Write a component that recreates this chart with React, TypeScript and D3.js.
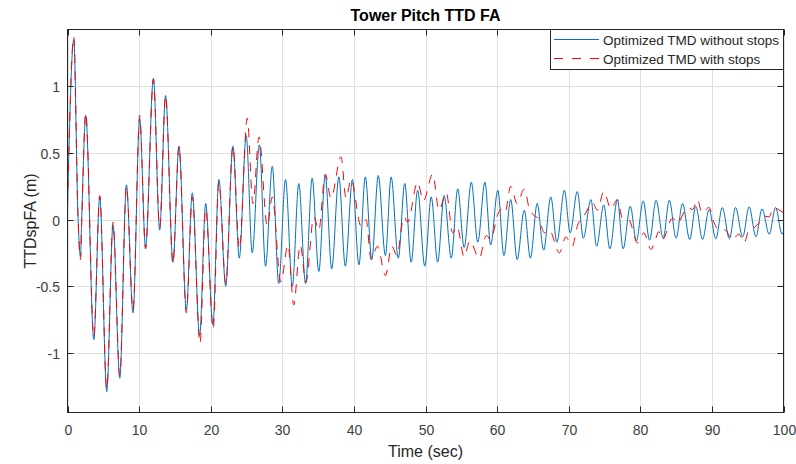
import React from "react";
import * as d3 from "d3";

// ---- Data ----
const blueTime = [
  0, 0.88, 1.45, 1.81, 1.98, 2.55, 3.67, 4.5, 5.48, 6.36, 7.3, 8.23, 9.15, 10.08, 10.9, 12.0, 12.87, 13.7, 14.73, 15.57,
  16.6, 17.43, 18.45, 19.3, 20.3, 21.14, 22.1, 23.1, 23.99, 24.96, 25.8, 26.8, 27.66, 28.6, 29.5, 30.45, 31.4, 32.3, 33.25,
  34.17, 35.1, 36.0, 36.9, 37.9, 38.8, 39.8, 40.7, 41.6, 42.5, 43.4, 44.4, 45.2, 46.2, 47.1, 48.0, 48.9, 49.9, 50.8, 51.7,
  52.6, 53.6, 54.5, 55.4, 56.4, 57.3, 58.3, 59.1, 60.1, 60.95, 61.9, 62.8, 63.8, 64.65, 65.6, 66.5, 67.5, 68.35, 69.4, 70.2,
  71.2, 72.05, 73.1, 73.9, 74.9, 75.75, 76.8, 77.6, 78.6, 79.45, 80.4, 81.3, 82.2, 83.2, 84.05, 85.0, 85.9, 86.9, 87.75,
  88.7, 89.6, 90.55, 91.45, 92.45, 93.3, 94.3, 95.2, 96.15, 97.0, 98.0, 98.9, 99.8, 100,
];
const blueValue = [
  0.1, 1.35, 0.05, -0.28, 0.0, 0.78, -0.9, 0.17, -1.29, -0.04, -1.19, 0.26, -0.7, 0.76, -0.21, 1.06, -0.08, 0.93, -0.32, 0.55,
  -0.68, 0.2, -0.87, 0.12, -0.79, 0.3, -0.5, 0.55, -0.29, 0.63, -0.25, 0.56, -0.35, 0.4, -0.48, 0.3, -0.5, 0.27, -0.48,
  0.31, -0.39, 0.33, -0.37, 0.32, -0.35, 0.3, -0.34, 0.32, -0.3, 0.33, -0.27, 0.32, -0.29, 0.27, -0.32, 0.22, -0.35, 0.17, -0.32,
  0.18, -0.29, 0.23, -0.21, 0.28, -0.17, 0.28, -0.19, 0.22, -0.27, 0.15, -0.3, 0.07, -0.29, 0.12, -0.23, 0.17, -0.17, 0.22, -0.1,
  0.21, -0.14, 0.15, -0.2, 0.11, -0.22, 0.15, -0.22, 0.1, -0.16, 0.14, -0.155, 0.145, -0.14, 0.145, -0.14, 0.12, -0.15, 0.1,
  -0.15, 0.075, -0.145, 0.09, -0.145, 0.09, -0.13, 0.095, -0.13, 0.08, -0.11, 0.09, -0.11, -0.09,
];

const redTime = [
  0, 0.88, 1.45, 1.81, 1.98, 2.55, 3.67, 4.5, 5.48, 6.36, 7.3, 8.23, 9.15, 10.08, 10.9, 12.0, 12.87, 13.7, 14.73, 15.57,
  16.6, 17.43, 18.5, 19.3, 20.35, 21.14, 22.1, 23.1, 24.0, 25.1, 25.9, 26.75, 27.9, 28.6, 29.8, 30.8, 31.6, 32.5, 33.3,
  34.4, 35.1, 36.0, 36.8, 38.2, 38.9, 39.6, 41.0, 41.7, 42.4, 43.3, 44.4, 45.3, 46.0, 47.0, 47.5, 48.9, 49.7, 51.0, 51.9,
  52.9, 53.8, 54.4, 55.4, 56.2, 57.5, 58.5, 59.1, 60.1, 60.6, 61.1, 61.9, 62.8, 63.8, 64.5, 65.2, 65.9, 66.6, 67.3, 68.7,
  69.6, 70.5, 71.2, 72.4, 73.3, 74.0, 74.9, 75.9, 76.8, 77.5, 78.4, 79.6, 80.5, 81.5, 82.1, 82.6, 83.1, 84.5, 85.2, 86.6,
  87.3, 88.0, 88.6, 89.6, 90.3, 91.0, 91.9, 92.8, 93.8, 94.5, 95.2, 95.9, 96.6, 97.3, 98.0, 98.6, 99.3, 100,
];
const redValue = [
  0.1, 1.37, 0.05, -0.3, -0.02, 0.8, -0.88, 0.18, -1.27, -0.02, -1.17, 0.25, -0.68, 0.78, -0.22, 1.05, -0.06, 0.93, -0.33, 0.55,
  -0.7, 0.17, -0.93, 0.08, -0.82, 0.28, -0.48, 0.55, -0.22, 0.76, 0.12, 0.62, -0.05, 0.17, -0.47, -0.19, -0.64, -0.19, -0.47,
  0.02, -0.08, 0.34, 0.16, 0.47, 0.16, 0.3, -0.05, 0.0, -0.3, -0.2, -0.42, -0.2, -0.27, 0.02, -0.02, 0.28, 0.14, 0.34, 0.07,
  0.2, -0.1, -0.05, -0.28, -0.16, -0.29, -0.12, -0.15, 0.04, 0.075, 0.05, 0.25, 0.12, 0.23, 0.08, 0.03, 0.0, -0.1, -0.08, -0.25,
  -0.13, -0.2, -0.05, 0.05, 0.13, 0.07, 0.21, 0.08, 0.15, 0.01, 0.0, -0.175, -0.1, -0.225, -0.15, -0.09, -0.15, 0.01, -0.025, 0.09,
  0.075, 0.15, 0.05, 0.09, -0.025, -0.075, -0.08, -0.15, -0.11, -0.175, -0.075, -0.06, -0.025, 0.025, 0.02, 0.09, 0.075, 0.05,
];

const xTicks = [0, 10, 20, 30, 40, 50, 60, 70, 80, 90, 100];
const yTicks = [-1, -0.5, 0, 0.5, 1];
const seriesNames = ["Optimized TMD without stops", "Optimized TMD with stops"];

const W = 796;
const H = 464;
const L = 67.5, R = 783.5, T = 29.5, B = 412.5;
const FONT = "'Liberation Sans', Arial, Helvetica, sans-serif";
const AX = "#262626";

export default function App() {
  const x = d3.scaleLinear().domain([0, 100]).range([L, R]);
  const y = d3.scaleLinear().domain([-1.447, 1.425]).range([B, T]);
  const line = d3
    .line<[number, number]>()
    .x((d) => x(d[0]))
    .y((d) => y(d[1]))
    .curve(d3.curveMonotoneX);
  const blue: [number, number][] = blueTime.map((t, i) => [t, blueValue[i]]);
  const red: [number, number][] = redTime.map((t, i) => [t, redValue[i]]);
  const tick = 6;

  return (
    <svg
      width={W}
      height={H}
      style={{ position: "absolute", left: 0, top: 0, display: "block", background: "#fff" }}
      fontFamily={FONT}
    >
      <rect x={0} y={0} width={W} height={H} fill="#fff" />
      <defs>
        <clipPath id="plotclip">
          <rect x={L} y={T} width={R - L} height={B - T} />
        </clipPath>
      </defs>
      {/* grid */}
      {xTicks.map((t) => (
        <line key={"gx" + t} x1={Math.round(x(t)) + 0.5} x2={Math.round(x(t)) + 0.5} y1={T} y2={B} stroke="#dfdfdf" strokeWidth={1} />
      ))}
      {yTicks.map((t) => (
        <line key={"gy" + t} x1={L} x2={R} y1={Math.round(y(t)) + 0.5} y2={Math.round(y(t)) + 0.5} stroke="#dfdfdf" strokeWidth={1} />
      ))}
      {/* data */}
      <g clipPath="url(#plotclip)">
        <path d={line(blue) || ""} fill="none" stroke="#0072BD" strokeWidth={1} />
        <path d={line(red) || ""} fill="none" stroke="#FF0000" strokeWidth={1} strokeDasharray="9,8" />
      </g>
      {/* box */}
      <rect x={L} y={T} width={R - L} height={B - T} fill="none" stroke={AX} strokeWidth={1} />
      {/* ticks */}
      {xTicks.map((t) => {
        const px = Math.round(x(t)) + 0.5;
        return (
          <g key={"tx" + t}>
            <line x1={px} x2={px} y1={B} y2={B - tick} stroke={AX} />
            <line x1={px} x2={px} y1={T} y2={T + tick} stroke={AX} />
            <text x={px} y={435} textAnchor="middle" fontSize={14} fill="#404040">
              {t}
            </text>
          </g>
        );
      })}
      {yTicks.map((t) => {
        const py = Math.round(y(t)) + 0.5;
        return (
          <g key={"ty" + t}>
            <line x1={L} x2={L + tick} y1={py} y2={py} stroke={AX} />
            <line x1={R} x2={R - tick} y1={py} y2={py} stroke={AX} />
            <text x={60} y={py + 5} textAnchor="end" fontSize={14} fill="#404040">
              {String(t)}
            </text>
          </g>
        );
      })}
      {/* labels */}
      <text x={(L + R) / 2} y={20.5} textAnchor="middle" fontSize={16} fontWeight="bold" fill="#000">
        Tower Pitch TTD FA
      </text>
      <text x={(L + R) / 2} y={457} textAnchor="middle" fontSize={16} fill="#262626">
        Time (sec)
      </text>
      <text transform={`translate(36, ${(T + B) / 2}) rotate(-90)`} textAnchor="middle" fontSize={16} fill="#262626">
        TTDspFA (m)
      </text>
      {/* legend */}
      <g>
        <rect x={550.5} y={T} width={R - 550.5} height={40} fill="#fff" stroke={AX} strokeWidth={1} />
        <line x1={554} x2={599} y1={39.5} y2={39.5} stroke="#0072BD" strokeWidth={1} />
        <line x1={554} x2={599} y1={58.5} y2={58.5} stroke="#FF0000" strokeWidth={1} strokeDasharray="9,9" />
        <text x={603} y={44.5} fontSize={13.5} fill="#262626">
          {seriesNames[0]}
        </text>
        <text x={603} y={63.5} fontSize={13.5} fill="#262626">
          {seriesNames[1]}
        </text>
      </g>
    </svg>
  );
}
